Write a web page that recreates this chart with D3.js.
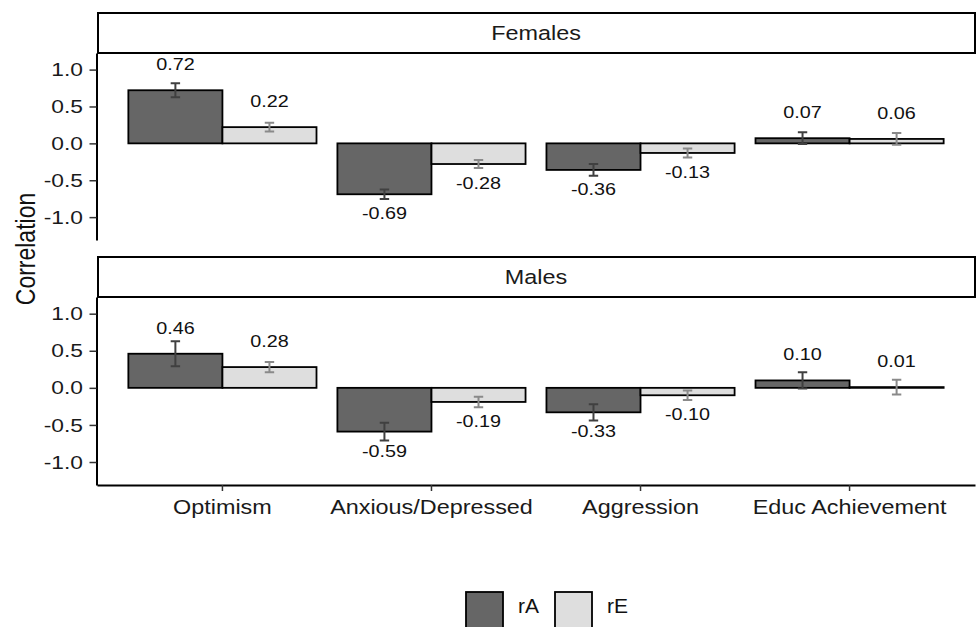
<!DOCTYPE html>
<html>
<head>
<meta charset="utf-8">
<script src="https://cdnjs.cloudflare.com/ajax/libs/d3/7.8.5/d3.min.js"></script>
<style>
body { margin: 0; background: #fff; }
text { font-family: "Liberation Sans", Arial, sans-serif; }
</style>
</head>
<body>
<svg width="978" height="627"></svg>
<script>
var categories = ["Optimism", "Anxious/Depressed", "Aggression", "Educ Achievement"];
var groups = ["Females", "Males"];
var series = ["rA", "rE"];

var femalesRA = [0.72, -0.69, -0.36, 0.07],
    femalesRE = [0.22, -0.28, -0.13, 0.06],
    malesRA = [0.46, -0.59, -0.33, 0.10],
    malesRE = [0.28, -0.19, -0.10, 0.01];

// half length of the error bars
var femalesRAErr = [0.095, 0.065, 0.08, 0.08],
    femalesREErr = [0.06, 0.055, 0.06, 0.08],
    malesRAErr = [0.17, 0.12, 0.11, 0.11],
    malesREErr = [0.07, 0.07, 0.065, 0.10];

var yTicks = [-1.0, -0.5, 0.0, 0.5, 1.0];

var values = {Females: {rA: femalesRA, rE: femalesRE}, Males: {rA: malesRA, rE: malesRE}},
    errors = {Females: {rA: femalesRAErr, rE: femalesREErr}, Males: {rA: malesRAErr, rE: malesREErr}};

var fill = {rA: "#666666", rE: "#dedede"},
    errColor = {rA: "#404040", rE: "#8a8a8a"};

var svg = d3.select("svg"),
    width = +svg.attr("width"),
    height = +svg.attr("height");

var left = 97, right = 975;
// strip top, panel top, panel bottom
var panels = [{strip: 13, top: 53, bottom: 240}, {strip: 257, top: 297, bottom: 485}];

var sx = 1.2; // the picture's text is a bit wide
function place(sel, x, y) {
  sel.attr("transform", "translate(" + x + "," + y + ") scale(" + sx + ",1)");
}

var x = d3.scaleBand().domain(categories).range([left, right]).paddingInner(0.1).paddingOuter(0.15);
var xs = d3.scaleBand().domain(series).range([0, x.bandwidth()]);

groups.forEach(function(grp, gi) {
  var p = panels[gi];
  var y = d3.scaleLinear().domain([-1.31, 1.225]).range([p.bottom, p.top]);
  var g = svg.append("g");

  g.append("rect")
      .attr("x", left + 1).attr("y", p.strip)
      .attr("width", right - left - 1).attr("height", p.top - p.strip)
      .attr("fill", "#fff").attr("stroke", "#000").attr("stroke-width", 2);
  g.append("text")
      .attr("text-anchor", "middle")
      .attr("font-size", 19.5)
      .attr("fill", "#1a1a1a")
      .text(grp)
      .call(place, (left + right) / 2, (p.strip + p.top) / 2 + 7);

  var rows = [];
  categories.forEach(function(c, ci) {
    series.forEach(function(s) {
      rows.push({cat: c, s: s, v: values[grp][s][ci], e: errors[grp][s][ci]});
    });
  });

  g.selectAll(".bar")
    .data(rows)
    .enter().append("rect")
      .attr("x", function(d) { return x(d.cat) + xs(d.s); })
      .attr("y", function(d) { return y(Math.max(0, d.v)); })
      .attr("width", xs.bandwidth())
      .attr("height", function(d) { return Math.abs(y(d.v) - y(0)); })
      .attr("fill", function(d) { return fill[d.s]; })
      .attr("stroke", "#000")
      .attr("stroke-width", 1.8);

  var cap = xs.bandwidth() * 0.05;
  g.selectAll(".err")
    .data(rows)
    .enter().append("path")
      .attr("fill", "none")
      .attr("stroke", function(d) { return errColor[d.s]; })
      .attr("stroke-width", 2)
      .attr("d", function(d) {
        var cx = x(d.cat) + xs(d.s) + xs.bandwidth() / 2,
            y0 = y(d.v + d.e), y1 = y(d.v - d.e);
        return "M" + (cx - cap) + "," + y0 + "H" + (cx + cap) +
               "M" + cx + "," + y0 + "V" + y1 +
               "M" + (cx - cap) + "," + y1 + "H" + (cx + cap);
      });

  g.selectAll(".lab")
    .data(rows)
    .enter().append("text")
      .attr("text-anchor", "middle")
      .attr("font-size", 16.5)
      .attr("fill", "#111")
      .text(function(d) { return d.v.toFixed(2); })
      .each(function(d) {
        var cx = x(d.cat) + xs(d.s) + xs.bandwidth() / 2,
            cy = d.v >= 0 ? y(d.v) - 26 : y(d.v) + 19;
        d3.select(this).call(place, cx, cy + 6);
      });

  var yAxis = g.append("g")
      .attr("transform", "translate(" + (left - 0.5) + ",0)")
      .call(d3.axisLeft(y).tickValues(yTicks).tickFormat(function(d) { return d.toFixed(1); })
        .tickSize(7).tickPadding(6.5).tickSizeOuter(0));
  yAxis.select(".domain").attr("stroke", "#000").attr("stroke-width", 2);
  yAxis.selectAll(".tick line").attr("stroke", "#333").attr("stroke-width", 1.5);
  yAxis.selectAll(".tick text")
      .attr("font-size", 19)
      .attr("font-family", null)
      .attr("fill", "#1a1a1a")
      .attr("x", -13.5 / sx)
      .attr("transform", "scale(" + sx + ",1)");

  if (gi == groups.length - 1) {
    var xAxis = g.append("g")
        .attr("transform", "translate(0," + p.bottom + ")")
        .call(d3.axisBottom(x).tickSize(6).tickPadding(9).tickSizeOuter(0));
    xAxis.select(".domain").attr("stroke", "#000").attr("stroke-width", 2);
    xAxis.selectAll(".tick line").attr("stroke", "#333").attr("stroke-width", 1.5);
    xAxis.selectAll(".tick text")
        .attr("font-size", 19.5)
        .attr("font-family", null)
        .attr("fill", "#1a1a1a")
        .attr("transform", "scale(" + sx + ",1)");
  }
});

svg.append("text")
    .attr("text-anchor", "middle")
    .attr("font-size", 23)
    .attr("fill", "#111")
    .attr("transform", "translate(34.5,249) scale(" + sx + ",1) rotate(-90)")
    .text("Correlation");

// legend
var legend = svg.append("g").selectAll("g")
    .data(series)
    .enter().append("g")
      .attr("transform", function(d, i) { return "translate(" + (466 + i * 89) + ",592)"; });
legend.append("rect")
    .attr("width", 37).attr("height", 36)
    .attr("fill", function(d) { return fill[d]; })
    .attr("stroke", "#000")
    .attr("stroke-width", 1.8);
legend.append("text")
    .attr("x", 52).attr("y", 21)
    .attr("font-size", 21)
    .attr("fill", "#111")
    .text(function(d) { return d; });
</script>
</body>
</html>
